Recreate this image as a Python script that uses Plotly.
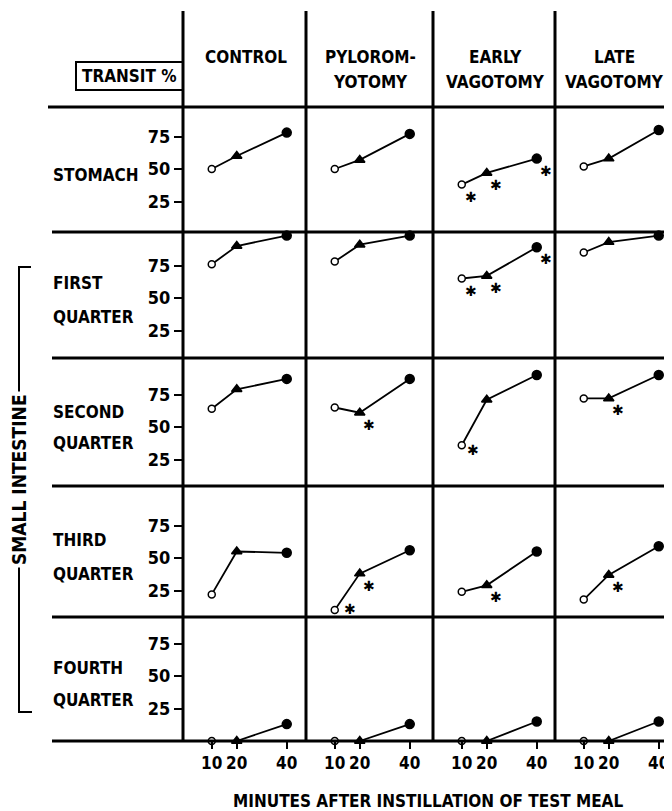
import plotly.graph_objects as go

# ---------------- data ----------------
minutes = [10, 20, 40]
groups = [["CONTROL"], ["PYLOROM-", "YOTOMY"], ["EARLY", "VAGOTOMY"], ["LATE", "VAGOTOMY"]]
segments = [["STOMACH"], ["FIRST", "QUARTER"], ["SECOND", "QUARTER"],
            ["THIRD", "QUARTER"], ["FOURTH", "QUARTER"]]
y_ticks = [25, 50, 75]

# transit % per group (control, pyloromyotomy, early vagotomy, late vagotomy) at 10/20/40 min
stomach        = [[50, 60, 78], [50, 57, 77], [38, 47, 58], [52, 58, 80]]
first_quarter  = [[76, 90, 98], [78, 91, 98], [65, 67, 89], [85, 93, 98]]
second_quarter = [[64, 79, 87], [65, 61, 87], [36, 71, 90], [72, 72, 90]]
third_quarter  = [[22, 55, 54], [10, 38, 56], [24, 29, 55], [18, 37, 59]]
fourth_quarter = [[0, 0, 13], [0, 0, 13], [0, 0, 15], [0, 0, 15]]

# significance flags (asterisks)
stomach_sig        = [[0, 0, 0], [0, 0, 0], [1, 1, 1], [0, 0, 0]]
first_quarter_sig  = [[0, 0, 0], [0, 0, 0], [1, 1, 1], [0, 0, 0]]
second_quarter_sig = [[0, 0, 0], [0, 1, 0], [1, 0, 0], [0, 1, 0]]
third_quarter_sig  = [[0, 0, 0], [1, 1, 0], [0, 1, 0], [0, 1, 0]]
fourth_quarter_sig = [[0, 0, 0], [0, 0, 0], [0, 0, 0], [0, 0, 0]]

values = [stomach, first_quarter, second_quarter, third_quarter, fourth_quarter]
sigs = [stomach_sig, first_quarter_sig, second_quarter_sig, third_quarter_sig, fourth_quarter_sig]

# ---------------- layout geometry (pixels, in window coordinates) ----------------
OFF = 8                      # default page body margin
W, H = 672 - OFF, 811 - OFF
FONT = "Liberation Sans Narrow, DejaVu Sans Condensed, Arial Narrow, sans-serif"
FS = 17
col_edges = [183, 306, 433, 555, 672]
row_edges = [107, 232, 358, 486, 617, 741]
zero_off = [2, 5, 6, 6, 0]      # px between row bottom line and value 0
y_scale = 1.3                    # px per %
x_scale = 2.5                    # px per minute
x_lo = -1.5
# asterisk placement (pixel shift from its point); a few sit beside the point
star_shift_default = (9, -12)
star_shift_special = {(2, 2, 0): (11, -5), (3, 1, 0): (15, 1)}

def fx(p):
    return (p - OFF) / W

def fy(p):
    return 1 - (p - OFF) / H

fig = go.Figure()
layout = dict(
    width=W, height=H, margin=dict(l=0, r=0, t=0, b=0),
    paper_bgcolor="white", plot_bgcolor="white", showlegend=False,
    font=dict(family=FONT, color="black"),
)

nrows, ncols = len(segments), len(groups)

for c in range(ncols):
    key = "xaxis" if c == 0 else f"xaxis{c+1}"
    right = min(col_edges[c + 1], 672)
    width_px = right - col_edges[c]
    layout[key] = dict(
        domain=[fx(col_edges[c]), min(1, fx(right))],
        range=[x_lo, x_lo + width_px / x_scale],
        anchor=f"y{nrows}",
        tickvals=minutes, ticktext=[f"<b>{m}</b>" for m in minutes],
        ticks="outside", ticklen=7, tickwidth=2, tickcolor="black",
        showline=False, showgrid=False, zeroline=False,
        tickfont=dict(family=FONT, size=FS, color="black"),
        fixedrange=True,
    )

for r in range(nrows):
    key = "yaxis" if r == 0 else f"yaxis{r+1}"
    top, bot = row_edges[r], row_edges[r + 1]
    zero_px = bot + zero_off[r]
    layout[key] = dict(
        domain=[fy(bot), fy(top)],
        range=[(zero_px - bot) / y_scale, (zero_px - top) / y_scale],
        anchor="x",
        tickvals=y_ticks, ticktext=[f"<b>{t}</b>" for t in y_ticks],
        ticks="outside", ticklen=8, tickwidth=2, tickcolor="black",
        showline=False, showgrid=False, zeroline=False,
        tickfont=dict(family=FONT, size=FS + 1, color="black"),
        fixedrange=True,
    )

annotations = []
for r in range(nrows):
    for c in range(ncols):
        xa = "x" if c == 0 else f"x{c+1}"
        ya = "y" if r == 0 else f"y{r+1}"
        fig.add_trace(go.Scatter(
            x=minutes, y=values[r][c], xaxis=xa, yaxis=ya,
            mode="lines+markers", cliponaxis=False, opacity=1,
            line=dict(color="black", width=1.8),
            marker=dict(symbol=["circle", "triangle-up", "circle"],
                        size=[7, 9, 9], opacity=1,
                        color=["white", "black", "black"],
                        line=dict(color="black", width=1.5)),
            hoverinfo="skip",
        ))
        for i, s in enumerate(sigs[r][c]):
            if s:
                dx, dy = star_shift_special.get((r, c, i), star_shift_default)
                annotations.append(dict(
                    x=minutes[i], y=values[r][c][i], xref=xa, yref=ya,
                    text="✱", showarrow=False, xshift=dx, yshift=dy,
                    font=dict(family="DejaVu Sans", size=14, color="black"),
                ))

# column headers
for c, lines in enumerate(groups):
    cx = (col_edges[c] + min(col_edges[c + 1], 680)) / 2
    for j, t in enumerate(lines):
        annotations.append(dict(
            x=fx(cx + 1), y=fy(57 + 25 * j), xref="paper", yref="paper",
            text=f"<b>{t}</b>", showarrow=False, xanchor="center", yanchor="middle",
            font=dict(family=FONT, size=FS, color="black"),
        ))

# row labels
row_label_y = [[175], [283, 317], [412, 443], [540, 574], [668, 700]]
for r, lines in enumerate(segments):
    for j, t in enumerate(lines):
        annotations.append(dict(
            x=fx(51), y=fy(row_label_y[r][j]), xref="paper", yref="paper",
            text=f"<b>{t}</b>", showarrow=False, xanchor="left", yanchor="middle",
            font=dict(family=FONT, size=FS, color="black"),
        ))

# TRANSIT % box label
annotations.append(dict(
    x=fx(129), y=fy(76), xref="paper", yref="paper",
    text="<b>TRANSIT %</b>", showarrow=False, xanchor="center", yanchor="middle",
    font=dict(family=FONT, size=FS, color="black"),
))

# SMALL INTESTINE bracket label
annotations.append(dict(
    x=fx(19), y=fy(480), xref="paper", yref="paper",
    text="<b>SMALL INTESTINE</b>", textangle=-90, showarrow=False,
    xanchor="center", yanchor="middle", bgcolor="white", borderpad=2,
    font=dict(family=FONT, size=FS + 2, color="black"),
))

# x-axis title
annotations.append(dict(
    x=fx(428), y=fy(801), xref="paper", yref="paper",
    text="<b>MINUTES AFTER INSTILLATION OF TEST MEAL</b>", showarrow=False,
    xanchor="center", yanchor="middle",
    font=dict(family=FONT, size=FS, color="black"),
))

shapes = []
line_style = dict(color="black", width=3)
# vertical grid lines
for xp in col_edges[:-1]:
    shapes.append(dict(type="line", xref="paper", yref="paper",
                       x0=fx(xp), x1=fx(xp), y0=fy(11), y1=fy(row_edges[-1]), line=line_style))
# horizontal grid lines
for k, yp in enumerate(row_edges):
    shapes.append(dict(type="line", xref="paper", yref="paper",
                       x0=fx(48 if k == 0 else 52), x1=1, y0=fy(yp), y1=fy(yp), line=line_style))
# TRANSIT box
shapes.append(dict(type="rect", xref="paper", yref="paper",
                   x0=fx(76), x1=fx(183), y0=fy(90), y1=fy(62),
                   line=dict(color="black", width=2)))
# bracket for small intestine
br = dict(color="black", width=2)
shapes.append(dict(type="line", xref="paper", yref="paper",
                   x0=fx(19), x1=fx(19), y0=fy(267), y1=fy(712), line=br, layer="below"))
shapes.append(dict(type="line", xref="paper", yref="paper",
                   x0=fx(18), x1=fx(31), y0=fy(267), y1=fy(267), line=br))
shapes.append(dict(type="line", xref="paper", yref="paper",
                   x0=fx(18), x1=fx(32), y0=fy(712), y1=fy(712), line=br))

layout["annotations"] = annotations
layout["shapes"] = shapes
fig.update_layout(**layout)
fig.write_html("out.html")
